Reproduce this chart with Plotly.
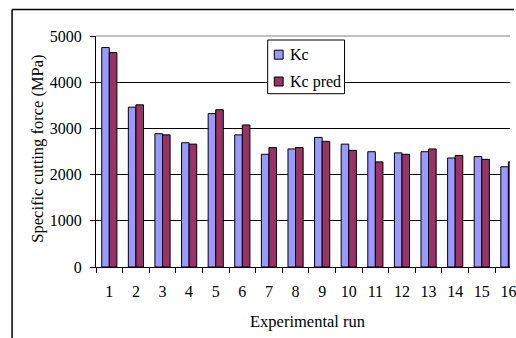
import plotly.graph_objects as go

runs = [str(i) for i in range(1, 17)]
kc = [4750, 3460, 2885, 2690, 3320, 2860, 2440, 2555, 2805, 2660, 2495, 2470, 2495, 2360, 2390, 2170]
kc_pred = [4640, 3510, 2860, 2660, 3405, 3075, 2585, 2585, 2720, 2525, 2275, 2440, 2555, 2415, 2330, 2275]
series_names = ["Kc", "Kc pred"]
series_colors = ["#9999FF", "#993366"]

W, H = 516, 338
L, R, T, B = 95.7, 0, 36, 71
pw, ph = W - L - R, H - T - B

def px(x):
    return (x - L) / pw

def py(y):
    return (H - B - y) / ph

serif = "Liberation Serif"
tick_font = dict(family=serif, size=16, color="black")
title_font = dict(family=serif, size=16.5, color="black")

fig = go.Figure()
for name, vals, col in zip(series_names, [kc, kc_pred], series_colors):
    fig.add_bar(x=runs, y=vals, name=name,
                marker=dict(color=col, line=dict(color="black", width=1)))

# boxed legend drawn with shapes + text
legend_shapes = [
    dict(type="rect", xref="paper", yref="paper",
         x0=px(270), x1=px(348), y0=py(40), y1=py(93.7),
         fillcolor="white", line=dict(color="black", width=1), layer="above"),
]
legend_notes = []
for i, (name, col) in enumerate(zip(series_names, series_colors)):
    yc = 54.7 + i * 26.8
    legend_shapes.append(
        dict(type="rect", xref="paper", yref="paper",
             x0=px(276.7), x1=px(285.7), y0=py(yc - 4.5), y1=py(yc + 4.5),
             fillcolor=col, line=dict(color="black", width=1), layer="above"))
    legend_notes.append(
        dict(text=name, xref="paper", yref="paper", x=px(290.5), y=py(yc),
             xanchor="left", yanchor="middle", showarrow=False,
             font=tick_font))

fig.update_layout(
    width=W, height=H,
    margin=dict(l=L, r=R, t=T, b=B, pad=0),
    paper_bgcolor="white", plot_bgcolor="white",
    font=dict(family=serif, size=16, color="black"),
    barmode="group", bargap=0.43, bargroupgap=0,
    showlegend=False,
    xaxis=dict(type="category", range=[-0.5, 15.06],
               showline=True, linecolor="black", linewidth=1,
               ticks="outside", tickson="boundaries", ticklen=5, tickcolor="black",
               ticklabelstandoff=10,
               showgrid=False, tickfont=tick_font, fixedrange=True),
    yaxis=dict(range=[0, 5000], dtick=1000,
               showline=True, linecolor="black", linewidth=1,
               ticks="outside", ticklen=5, tickcolor="black",
               ticklabelstandoff=5,
               showgrid=True, gridcolor="black", gridwidth=1,
               zeroline=False, tickfont=tick_font, fixedrange=True),
    annotations=[
        dict(text="Experimental run", xref="paper", yref="paper",
             x=px(310.5), y=py(321), xanchor="center", yanchor="middle",
             showarrow=False, font=title_font),
        dict(text="Specific cutting force (MPa)", xref="paper", yref="paper",
             x=px(36), y=py(148.5), xanchor="center", yanchor="middle",
             textangle=-90, showarrow=False, font=title_font),
    ] + legend_notes,
    shapes=[
        # plot area top border
        dict(type="line", xref="paper", yref="paper", x0=0, x1=1, y0=1, y1=1,
             line=dict(color="#808080", width=1)),
        # chart frame
        dict(type="line", xref="paper", yref="paper", x0=px(10.5), x1=px(10.5),
             y0=py(9.5), y1=py(340), line=dict(color="black", width=1.5)),
        dict(type="line", xref="paper", yref="paper", x0=px(10.5), x1=px(520),
             y0=py(9.5), y1=py(9.5), line=dict(color="black", width=1.5)),
    ] + legend_shapes,
)

fig.write_html("out.html")
